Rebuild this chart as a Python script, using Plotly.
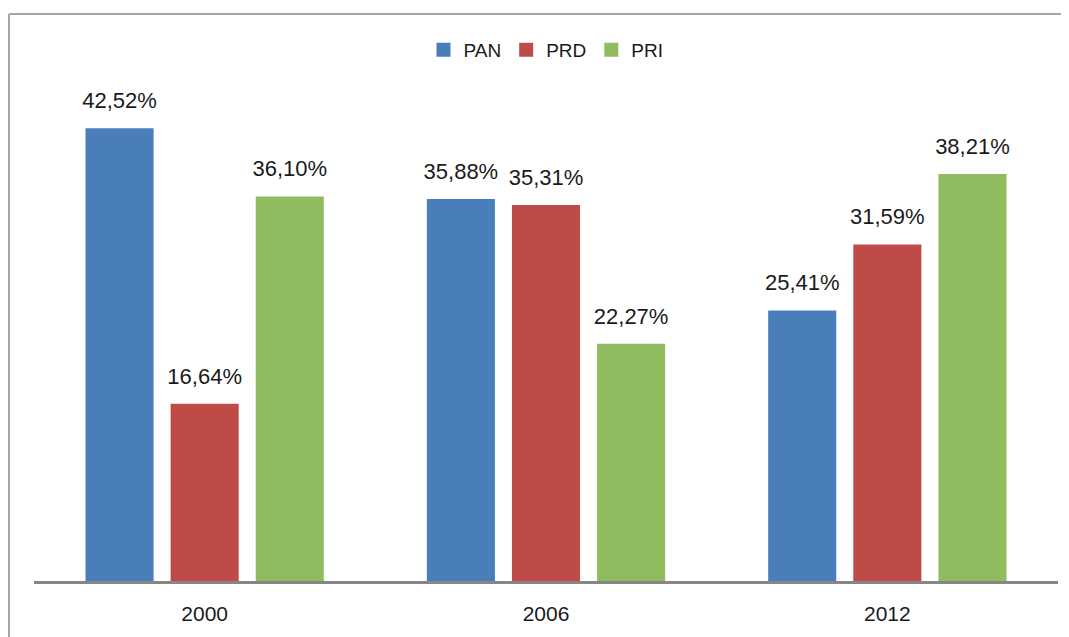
import plotly.graph_objects as go

years = ["2000", "2006", "2012"]
pan = [42.52, 35.88, 25.41]
prd = [16.64, 35.31, 31.59]
pri = [36.10, 22.27, 38.21]
series_names = ["PAN", "PRD", "PRI"]
colors = ["#4A7EBB", "#BE4B48", "#8FBC5F"]

def fmt(v):
    return f"{v:.2f}".replace(".", ",") + "%"

fig = go.Figure()
for i, (name, vals, col) in enumerate(zip(series_names, [pan, prd, pri], colors)):
    fig.add_trace(go.Bar(
        x=years, y=vals, name=name, showlegend=False,
        offsetgroup=str(i),
        marker=dict(color=col, line=dict(width=0)),
    ))
for i, (name, vals, col) in enumerate(zip(series_names, [pan, prd, pri], colors)):
    fig.add_trace(go.Scatter(
        x=years, y=vals, mode="markers+text", showlegend=False,
        offsetgroup=str(i), hoverinfo="skip",
        marker=dict(size=22, opacity=0, color=col),
        text=[fmt(v) for v in vals], textposition="top center",
        textfont=dict(family="Liberation Sans", size=22, color="#1a1a1a"),
        cliponaxis=False,
    ))
# legend entries with square keys
for name, col in zip(series_names, colors):
    fig.add_trace(go.Scatter(
        x=[None], y=[None], mode="markers", name=name,
        marker=dict(symbol="square", size=14, color=col),
    ))

# page offset of 8px (body margin) compensated
OFF = 8
W, H = 1069 - OFF, 637 - OFF
L, R, T, B = 34 - OFF, 11, 60 - OFF, 56
pw, ph = W - L - R, H - T - B

def px_x(p):
    return (p - OFF - L) / pw

def px_y(p):
    return (H - B - (p - OFF)) / ph

fig.update_layout(
    width=W, height=H,
    margin=dict(l=L, r=R, t=T, b=B),
    paper_bgcolor="white", plot_bgcolor="white",
    barmode="group", bargap=0.252, bargroupgap=0.2,
    scattermode="group", scattergap=0.252,
    font=dict(family="Liberation Sans", color="#1a1a1a"),
    showlegend=True,
    legend=dict(orientation="h", x=0.5, xanchor="center", y=px_y(50), yanchor="middle",
                font=dict(size=19), itemwidth=30, traceorder="normal",
                tracegroupgap=0, itemsizing="trace"),
    xaxis=dict(showgrid=False, showline=True, linecolor="#868686", linewidth=3,
               ticks="", tickfont=dict(size=21), ticklabelstandoff=12),
    yaxis=dict(range=[0, ph / 10.65], visible=False, showgrid=False),
    shapes=[
        dict(type="line", xref="paper", yref="paper", x0=px_x(9), x1=px_x(9),
             y0=px_y(14), y1=px_y(640), line=dict(color="#A6A6A6", width=2)),
        dict(type="line", xref="paper", yref="paper", x0=px_x(9), x1=px_x(1075),
             y0=px_y(14), y1=px_y(14), line=dict(color="#A6A6A6", width=2)),
    ],
)

fig.write_html("out.html")
